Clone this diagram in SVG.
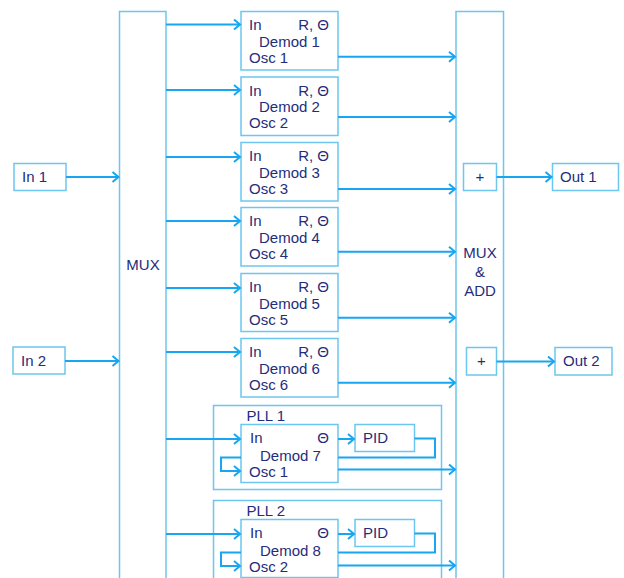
<svg xmlns="http://www.w3.org/2000/svg" width="624" height="578" viewBox="0 0 624 578">
<defs>
<marker id="arr" markerUnits="userSpaceOnUse" markerWidth="12" markerHeight="14" refX="7" refY="6" orient="auto" overflow="visible">
<path d="M1,1 L7,6 L1,11" fill="none" stroke="#16a6f2" stroke-width="2"/>
</marker>
<style>
.box{fill:#fff;stroke:#6cc6ef;stroke-width:1.5}
.ln{fill:none;stroke:#16a6f2;stroke-width:2}
.ar{fill:none;stroke:#16a6f2;stroke-width:2;marker-end:url(#arr)}
text{font-family:"Liberation Sans","Noto Sans",Arial,sans-serif;font-size:15px;fill:#1f2d7b}
.m{text-anchor:middle}
.e{text-anchor:end}
</style>
</defs>
<rect width="624" height="578" fill="#fff"/>

<g id="mux"><rect class="box" x="119.5" y="11.5" width="46.5" height="600"/><text class="m" x="143" y="270">MUX</text></g>
<g id="muxadd"><rect class="box" x="456" y="11.5" width="47.5" height="600"/><text class="m" x="480" y="258">MUX</text><text class="m" x="480" y="277">&amp;</text><text class="m" x="480" y="296">ADD</text></g>

<g id="in1"><rect class="box" x="14" y="163.5" width="52" height="27"/><text x="22" y="182">In 1</text></g>
<g id="in2"><rect class="box" x="13" y="347" width="52" height="27"/><text x="21" y="366">In 2</text></g>
<g id="plus1"><rect class="box" x="463.5" y="163.5" width="33" height="27"/><text class="m" x="480" y="182">+</text></g>
<g id="plus2"><rect class="box" x="466.5" y="347.5" width="30" height="27.5"/><text class="m" x="481.5" y="366">+</text></g>
<g id="out1"><rect class="box" x="552.5" y="163.5" width="66" height="27"/><text x="560" y="182">Out 1</text></g>
<g id="out2"><rect class="box" x="555" y="347.5" width="57" height="27.5"/><text x="563" y="366">Out 2</text></g>

<g id="demod1"><rect class="box" x="241" y="11.5" width="97" height="58.5"/><text x="249" y="30">In</text><text class="e" x="329" y="30">R, Θ</text><text x="259" y="46.5">Demod 1</text><text x="249" y="62.5">Osc 1</text></g>
<g id="demod2"><rect class="box" x="241" y="77" width="97" height="58.5"/><text x="249" y="95.5">In</text><text class="e" x="329" y="95.5">R, Θ</text><text x="259" y="112">Demod 2</text><text x="249" y="128">Osc 2</text></g>
<g id="demod3"><rect class="box" x="241" y="142.5" width="97" height="58.5"/><text x="249" y="161">In</text><text class="e" x="329" y="161">R, Θ</text><text x="259" y="177.5">Demod 3</text><text x="249" y="193.5">Osc 3</text></g>
<g id="demod4"><rect class="box" x="241" y="207.5" width="97" height="58.5"/><text x="249" y="226">In</text><text class="e" x="329" y="226">R, Θ</text><text x="259" y="242.5">Demod 4</text><text x="249" y="258.5">Osc 4</text></g>
<g id="demod5"><rect class="box" x="241" y="273.5" width="97" height="58"/><text x="249" y="292">In</text><text class="e" x="329" y="292">R, Θ</text><text x="259" y="308.5">Demod 5</text><text x="249" y="324.5">Osc 5</text></g>
<g id="demod6"><rect class="box" x="241" y="338.5" width="97" height="58.5"/><text x="249" y="357">In</text><text class="e" x="329" y="357">R, Θ</text><text x="259" y="373.5">Demod 6</text><text x="249" y="389.5">Osc 6</text></g>

<g id="pll1"><rect class="box" x="213.5" y="405.5" width="228" height="84"/><text x="246.5" y="421">PLL 1</text></g>
<g id="demod7"><rect class="box" x="241" y="424.5" width="97" height="58"/><text x="250" y="443">In</text><text class="e" x="329" y="443">Θ</text><text x="260" y="461">Demod 7</text><text x="249" y="476.5">Osc 1</text></g>
<g id="pid1"><rect class="box" x="355" y="424.5" width="59.5" height="27"/><text x="363" y="443">PID</text></g>

<g id="pll2"><rect class="box" x="213.5" y="500.5" width="228" height="84"/><text x="246.5" y="516">PLL 2</text></g>
<g id="demod8"><rect class="box" x="241" y="519.5" width="97" height="58"/><text x="250" y="538">In</text><text class="e" x="329" y="538">Θ</text><text x="260" y="556">Demod 8</text><text x="249" y="571.5">Osc 2</text></g>
<g id="pid2"><rect class="box" x="355" y="519.5" width="59.5" height="27"/><text x="363" y="538">PID</text></g>

<g id="connectors">
<path class="ar" d="M66,177 H118.5"/>
<path class="ar" d="M65,361 H118.5"/>
<path class="ar" d="M166,24.5 H240"/>
<path class="ar" d="M166,90 H240"/>
<path class="ar" d="M166,157 H240"/>
<path class="ar" d="M166,221 H240"/>
<path class="ar" d="M166,288 H240"/>
<path class="ar" d="M166,352 H240"/>
<path class="ar" d="M166,439 H240"/>
<path class="ar" d="M166,534 H240"/>
<path class="ar" d="M338,56.7 H455"/>
<path class="ar" d="M338,117 H455"/>
<path class="ar" d="M338,189 H455"/>
<path class="ar" d="M338,251.7 H455"/>
<path class="ar" d="M338,317.7 H455"/>
<path class="ar" d="M338,382.7 H455"/>
<path class="ar" d="M338,469.5 H455"/>
<path class="ar" d="M338,565.5 H455"/>
<path class="ar" d="M496.5,177 H551.5"/>
<path class="ar" d="M496.5,361.5 H554"/>
<path class="ar" d="M338,439 H354"/>
<path class="ar" d="M338,534 H354"/>
<path class="ln" d="M414.5,438.5 H435 V457.5 H338"/>
<path class="ar" d="M241,457.5 H221 V471 H240"/>
<path class="ln" d="M414.5,533.5 H435 V552.5 H338"/>
<path class="ar" d="M241,552.5 H221 V566 H240"/>
</g>
</svg>
